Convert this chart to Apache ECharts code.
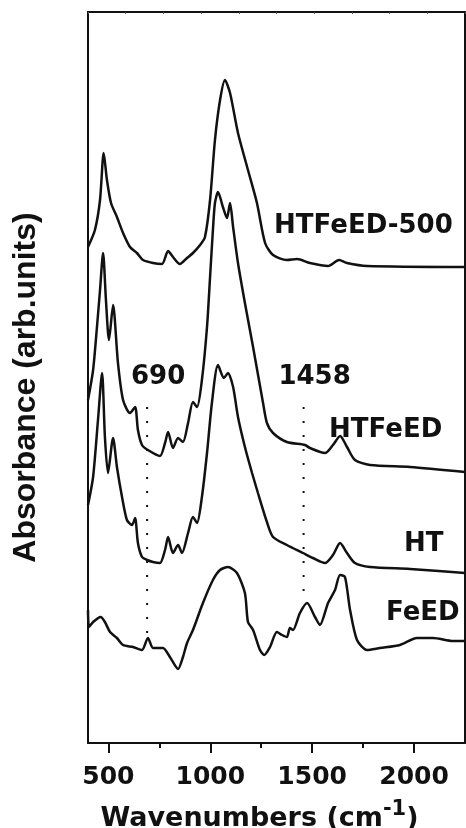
<!DOCTYPE html>
<html>
<head>
<meta charset="utf-8">
<script src="https://cdn.jsdelivr.net/npm/echarts@6/dist/echarts.min.js"></script>
<style>
html,body{margin:0;padding:0;background:#fff;}
#chart{width:466px;height:828px;}
</style>
</head>
<body>
<div id="chart"></div>
<script>
// Wavenumbers (cm-1) and absorbance (arb. units, stacked offsets as drawn)
var wnHTFeED500 = [400,434,459,477,493,513,542,572,606,640,670,719,763,793,817,851,886,915,950,974,999,1023,1048,1072,1097,1136,1185,1229,1269,1308,1376,1426,1489,1578,1632,1671,1769,2250];
var absHTFeED500 = [4.96,5.13,5.43,5.90,5.63,5.40,5.26,5.10,4.96,4.90,4.83,4.80,4.79,4.92,4.86,4.79,4.85,4.90,4.98,5.06,5.43,6.03,6.43,6.63,6.50,6.10,5.73,5.40,5.00,4.88,4.83,4.84,4.80,4.77,4.83,4.80,4.77,4.76];

var wnHTFeED = [400,425,444,459,474,488,503,523,547,572,606,631,645,665,694,753,778,793,817,842,866,891,915,935,959,984,999,1013,1023,1038,1062,1082,1097,1112,1136,1170,1210,1259,1278,1308,1376,1465,1489,1563,1602,1637,1671,1710,1784,1980,2250];
var absHTFeED = [3.43,3.73,4.16,4.53,4.90,4.43,4.03,4.38,3.80,3.43,3.30,3.36,3.13,2.98,2.93,2.87,3.00,3.11,2.95,3.05,3.01,3.20,3.41,3.36,3.63,4.16,4.66,5.13,5.40,5.51,5.36,5.25,5.40,5.16,4.80,4.40,3.96,3.40,3.20,3.10,3.01,2.98,2.95,2.90,2.98,3.07,2.96,2.83,2.78,2.76,2.71];

var wnHT = [400,425,449,469,483,498,523,542,567,591,616,631,645,665,690,719,753,778,793,817,842,861,891,915,935,959,984,1008,1038,1067,1087,1112,1136,1170,1205,1234,1278,1308,1376,1455,1504,1563,1602,1637,1671,1710,1784,1980,2250];
var absHT = [2.38,2.66,3.23,3.70,3.06,2.70,3.05,2.76,2.46,2.23,2.18,2.25,2.00,1.86,1.83,1.81,1.80,1.93,2.06,1.90,1.98,1.90,2.10,2.26,2.20,2.46,2.90,3.40,3.78,3.65,3.70,3.56,3.26,2.96,2.70,2.50,2.21,2.06,1.98,1.90,1.85,1.80,1.88,2.00,1.90,1.80,1.76,1.74,1.70];

var wnFeED = [400,405,425,462,483,508,542,572,621,665,694,719,743,768,802,842,866,886,915,964,1013,1048,1087,1131,1170,1185,1210,1244,1264,1293,1327,1352,1376,1391,1406,1440,1475,1514,1538,1578,1612,1637,1661,1686,1720,1769,1833,1931,2014,2093,2191,2250];
var absFeED = [1.33,1.16,1.21,1.26,1.21,1.11,1.05,0.98,0.96,0.93,1.05,0.95,0.95,0.95,0.86,0.74,0.86,1.00,1.13,1.40,1.63,1.73,1.76,1.70,1.50,1.21,1.13,0.93,0.88,0.96,1.11,1.08,1.06,1.15,1.13,1.30,1.40,1.26,1.18,1.40,1.53,1.68,1.66,1.33,1.03,0.93,0.95,0.98,1.05,1.05,1.02,1.02];

var seriesNames = ['HTFeED-500','HTFeED','HT','FeED'];
var markerWn = [690, 1458];
var markerTop = [3.36, 3.36];
var markerBottom = [1.10, 1.51];
var majorTicks = [500, 1000, 1500, 2000];
var minorTicks = [750, 1250, 1750];

function pairs(xs, ys){ return xs.map(function(x,i){ return [x, ys[i]]; }); }

var INK = '#111';
var chart = echarts.init(document.getElementById('chart'), null, {renderer:'canvas'});

function curve(name, xs, ys, labelCoord){
  return {
    name: name, type: 'line', xAxisIndex: 0, yAxisIndex: 0,
    data: pairs(xs, ys), showSymbol: false, symbol: 'none', smooth: 0.25,
    lineStyle: {color: INK, width: 2.5}, silent: true,
    markPoint: {
      symbol: 'circle', symbolSize: 0, silent: true,
      data: [{coord: labelCoord, value: name,
        label: {show: true, formatter: name, position: 'inside', align: 'left',
          color: INK, fontFamily: 'DejaVu Sans', fontWeight: 'bold', fontSize: 26}}]
    }
  };
}

function marker(i){
  return {
    type: 'line', xAxisIndex: 0, yAxisIndex: 0, silent: true, symbol: 'none', showSymbol: false,
    data: [[markerWn[i], markerTop[i]], [markerWn[i], markerBottom[i]]],
    lineStyle: {color: INK, width: 2, type: [2, 12]},
    markPoint: {
      symbol: 'circle', symbolSize: 0, silent: true,
      data: [{coord: [markerWn[i], markerTop[i]], value: markerWn[i],
        label: {show: true, formatter: String(markerWn[i]), position: 'top', distance: 17, offset: [11, 0],
          color: INK, fontFamily: 'DejaVu Sans', fontWeight: 'bold', fontSize: 26}}]
    }
  };
}

var option = {
  animation: false,
  backgroundColor: '#fff',
  grid: {left: 88, right: 1, top: 12, bottom: 85, containLabel: false, outerBoundsMode: 'none'},
  xAxis: [
    {type: 'value', position: 'bottom', min: 400, max: 2250,
     axisLine: {show: true, onZero: false, lineStyle: {color: INK, width: 2}},
     axisTick: {show: true, customValues: majorTicks, length: 10, lineStyle: {color: INK, width: 2}},
     axisLabel: {show: true, customValues: majorTicks, margin: 22, color: INK, fontFamily: 'DejaVu Sans', fontWeight: 'bold', fontSize: 25,
       formatter: function(v){ return String(v); }},
     splitLine: {show: false},
     name: '{t|Wavenumbers (cm}{s|-1}{t|)}', nameLocation: 'middle', nameGap: 56,
     nameTextStyle: {padding: [0, 34, 0, 0], rich: {
       t: {fontFamily: 'DejaVu Sans', fontWeight: 'bold', fontSize: 27, color: INK, lineHeight: 40, verticalAlign: 'middle'},
       s: {fontFamily: 'DejaVu Sans', fontWeight: 'bold', fontSize: 21, color: INK, lineHeight: 20, verticalAlign: 'top'}
     }}
    },
    {type: 'value', position: 'bottom', min: 400, max: 2250,
     axisLine: {show: false, onZero: false},
     axisTick: {show: true, customValues: minorTicks, length: 5, lineStyle: {color: INK, width: 2}},
     axisLabel: {show: false}, splitLine: {show: false}},
    {type: 'value', position: 'top', min: 0, max: 10, interval: 1,
     axisLine: {show: true, onZero: false, lineStyle: {color: INK, width: 2}},
     axisTick: {show: true, inside: true, length: 2, lineStyle: {color: '#555', width: 1}},
     axisLabel: {show: false}, splitLine: {show: false}}
  ],
  yAxis: [
    {type: 'value', position: 'left', min: 0, max: 7.31,
     axisLine: {show: true, onZero: false, lineStyle: {color: INK, width: 2}},
     axisTick: {show: false}, axisLabel: {show: false}, splitLine: {show: false},
     name: 'Absorbance (arb.units)', nameLocation: 'middle', nameRotate: 90, nameGap: 46,
     nameTextStyle: {fontFamily: 'Liberation Sans', fontWeight: 'bold', fontSize: 32, color: INK, padding: [0, 20, 0, 0]}},
    {type: 'value', position: 'right', min: 0, max: 7.31,
     axisLine: {show: true, onZero: false, lineStyle: {color: INK, width: 2}},
     axisTick: {show: false}, axisLabel: {show: false}, splitLine: {show: false}}
  ],
  series: [
    curve(seriesNames[0], wnHTFeED500, absHTFeED500, [1313, 5.17]),
    curve(seriesNames[1], wnHTFeED, absHTFeED, [1583, 3.13]),
    curve(seriesNames[2], wnHT, absHT, [1951, 1.99]),
    curve(seriesNames[3], wnFeED, absFeED, [1862, 1.30]),
    marker(0), marker(1)
  ]
};
chart.setOption(option);
</script>
</body>
</html>
